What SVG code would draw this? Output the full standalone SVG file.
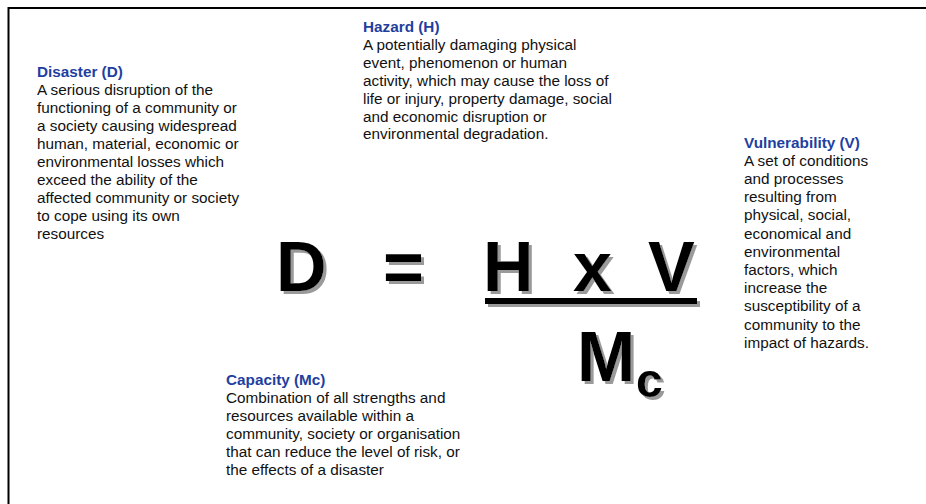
<svg xmlns="http://www.w3.org/2000/svg" width="926" height="504" viewBox="0 0 926 504">
<defs>
<filter id="shadow" x="-10%" y="-10%" width="130%" height="130%">
<feDropShadow dx="3" dy="3" stdDeviation="0.6" flood-color="#9a9a9a" flood-opacity="1"/>
</filter>
</defs>
<style>
.t{font-family:"Liberation Sans",Arial,sans-serif;font-size:15.3px;fill:#111}
.h{font-family:"Liberation Sans",Arial,sans-serif;font-size:15.3px;font-weight:bold;fill:#1f3f9f}
.big{font-family:"Liberation Sans",Arial,sans-serif;font-size:70px;font-weight:bold;fill:#000}
</style>
<rect width="926" height="504" fill="#fff"/>
<path d="M8.5,504 V8 H926" fill="none" stroke="#000" stroke-width="2"/>

<g id="disaster">
<text class="h" x="37" y="77">Disaster (D)</text>
<text class="t" x="37" y="95">A serious disruption of the</text>
<text class="t" x="37" y="113">functioning of a community or</text>
<text class="t" x="37" y="131">a society causing widespread</text>
<text class="t" x="37" y="149">human, material, economic or</text>
<text class="t" x="37" y="167">environmental losses which</text>
<text class="t" x="37" y="185">exceed the ability of the</text>
<text class="t" x="37" y="203">affected community or society</text>
<text class="t" x="37" y="221">to cope using its own</text>
<text class="t" x="37" y="239">resources</text>
</g>

<g id="hazard">
<text class="h" x="363" y="32">Hazard (H)</text>
<text class="t" x="363" y="50">A potentially damaging physical</text>
<text class="t" x="363" y="68">event, phenomenon or human</text>
<text class="t" x="363" y="86">activity, which may cause the loss of</text>
<text class="t" x="363" y="104">life or injury, property damage, social</text>
<text class="t" x="363" y="122">and economic disruption or</text>
<text class="t" x="363" y="139">environmental degradation.</text>
</g>

<g id="vulnerability">
<text class="h" x="744" y="148">Vulnerability (V)</text>
<text class="t" x="744" y="166">A set of conditions</text>
<text class="t" x="744" y="184">and processes</text>
<text class="t" x="744" y="202">resulting from</text>
<text class="t" x="744" y="220">physical, social,</text>
<text class="t" x="744" y="239">economical and</text>
<text class="t" x="744" y="257">environmental</text>
<text class="t" x="744" y="275">factors, which</text>
<text class="t" x="744" y="293">increase the</text>
<text class="t" x="744" y="311">susceptibility of a</text>
<text class="t" x="744" y="330">community to the</text>
<text class="t" x="744" y="348">impact of hazards.</text>
</g>

<g id="capacity">
<text class="h" x="226" y="385">Capacity (Mc)</text>
<text class="t" x="226" y="403">Combination of all strengths and</text>
<text class="t" x="226" y="421">resources available within a</text>
<text class="t" x="226" y="439">community, society or organisation</text>
<text class="t" x="226" y="457">that can reduce the level of risk, or</text>
<text class="t" x="226" y="475">the effects of a disaster</text>
</g>

<g id="formula" class="big" filter="url(#shadow)">
<text x="276" y="291">D</text>
<text x="383" y="291">=</text>
<text x="483" y="291">H</text>
<text x="573" y="291">x</text>
<text x="648" y="291">V</text>
<rect x="485" y="298" width="212" height="6"/>
<text x="577" y="381">M</text>
<text x="636" y="397" style="font-size:48px">c</text>
</g>
</svg>
